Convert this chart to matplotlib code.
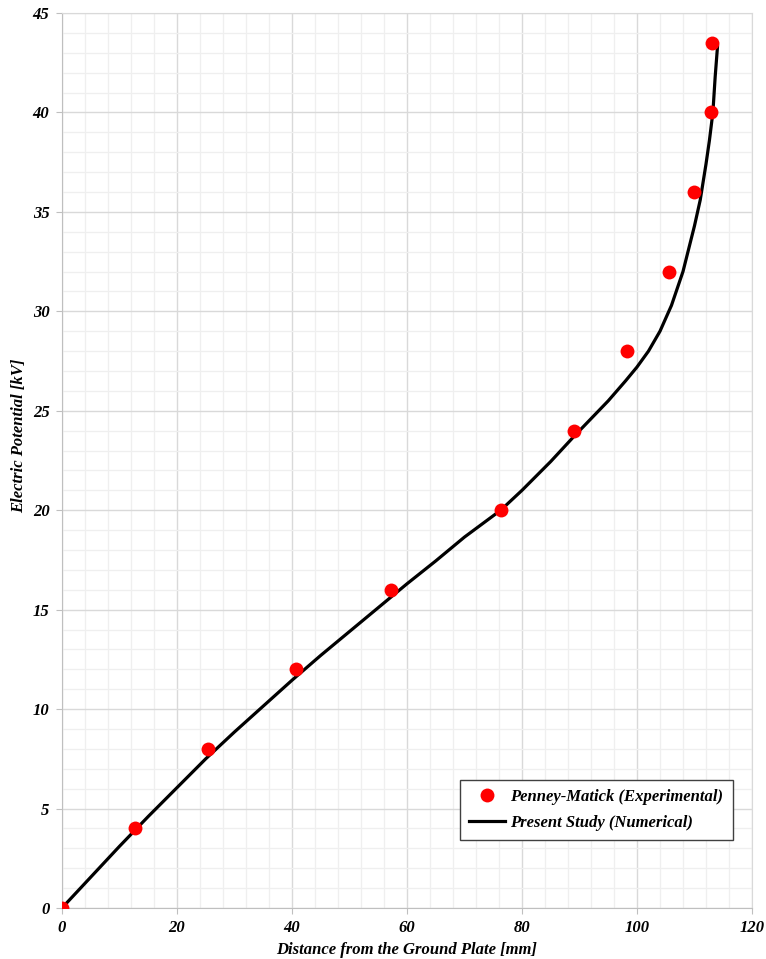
import matplotlib.pyplot as plt
from matplotlib.ticker import MultipleLocator

# experimental points (Penney-Matick)
exp_x = [0, 12.7, 25.4, 40.7, 57.2, 76.3, 89.0, 98.3, 105.6, 110.0, 112.9, 113.1]
exp_y = [0, 4, 8, 12, 16, 20, 24, 28, 32, 36, 40, 43.5]

# numerical curve
num_x = [0, 5, 10, 15, 20, 25, 30, 35, 40, 45, 50, 55, 60, 65, 70, 76.3, 80, 85,
         89, 92, 95, 98, 100, 102, 104, 106, 108, 110, 111, 112, 112.6, 113.2,
         113.6, 114.0]
num_y = [0, 1.55, 3.1, 4.6, 6.05, 7.5, 8.85, 10.15, 11.45, 12.7, 13.9, 15.1, 16.3,
         17.45, 18.65, 20.0, 21.0, 22.45, 23.7, 24.6, 25.5, 26.5, 27.2, 28.0, 29.0,
         30.3, 32.0, 34.3, 35.6, 37.4, 38.6, 40.0, 41.8, 43.3]

font = {'family': 'Liberation Serif', 'weight': 'bold', 'style': 'italic'}
fs = 12

fig = plt.figure(figsize=(7.66, 9.59), dpi=100)
ax = fig.add_axes([0.0809, 0.0532, 0.9008, 0.9332])

ax.plot(num_x, num_y, color='black', lw=2.3, zorder=3, label='Present Study (Numerical)')
ax.plot(exp_x, exp_y, 'o', color='#ff0000', ms=10, mec='none', zorder=4,
        label='Penney-Matick (Experimental)')

ax.set_xlim(0, 120)
ax.set_ylim(0, 45)
ax.xaxis.set_major_locator(MultipleLocator(20))
ax.xaxis.set_minor_locator(MultipleLocator(4))
ax.yaxis.set_major_locator(MultipleLocator(5))
ax.yaxis.set_minor_locator(MultipleLocator(1))
ax.grid(which='major', color='#d9d9d9', lw=1.0)
ax.grid(which='minor', color='#efefef', lw=0.9)
ax.set_axisbelow(True)
for s in ax.spines.values():
    s.set_color('#d9d9d9')
ax.spines['left'].set_color('#bfbfbf')
ax.spines['bottom'].set_color('#bfbfbf')
ax.tick_params(which='major', length=4, color='#bfbfbf', pad=5)
ax.tick_params(which='minor', length=0)
for lab in ax.get_xticklabels() + ax.get_yticklabels():
    lab.set_fontproperties(font)
    lab.set_fontsize(fs)

ax.set_xlabel('Distance from the Ground Plate [mm]', fontdict=font, fontsize=fs)
ax.set_ylabel('Electric Potential [kV]', fontdict=font, fontsize=fs)
ax.xaxis.set_label_coords(0.5, -0.038)
ax.yaxis.set_label_coords(-0.05, 0.528)

h, l = ax.get_legend_handles_labels()
leg = ax.legend(h[::-1], l[::-1], loc='lower right', bbox_to_anchor=(0.972, 0.076),
                borderaxespad=0, prop={**font, 'size': fs}, fancybox=False,
                edgecolor='#404040', framealpha=1, handlelength=2.2,
                handletextpad=0.3, borderpad=0.55, labelspacing=0.6)
leg.get_frame().set_linewidth(1.0)

plt.savefig('out.png', dpi=100)
